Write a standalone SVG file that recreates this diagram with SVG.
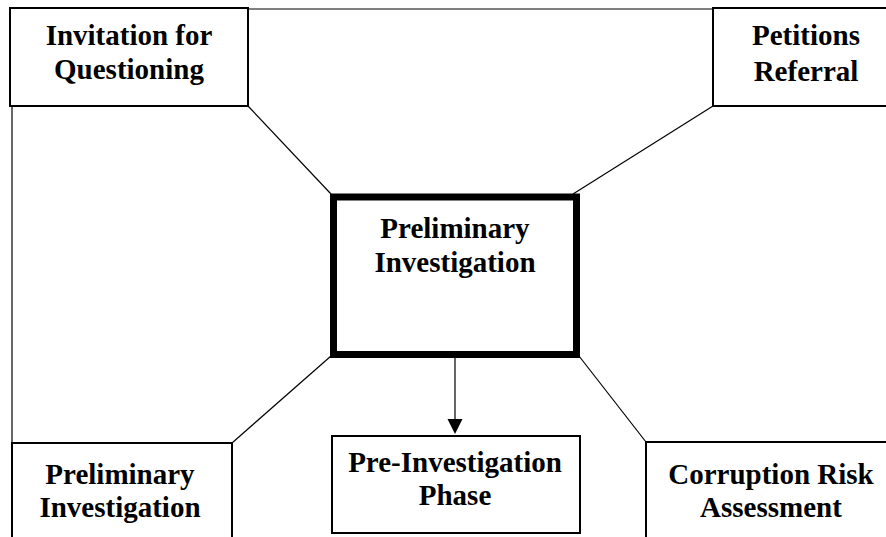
<svg xmlns="http://www.w3.org/2000/svg" width="886" height="537" viewBox="0 0 886 537">
<style>
.box{fill:#fff;stroke:#000;stroke-width:2}
.main{fill:#fff;stroke:#000;stroke-width:7}
.t{font-family:"Liberation Serif","Times New Roman",serif;font-weight:bold;font-size:29px;fill:#000;text-anchor:middle}
.c{stroke:#000;stroke-width:1.2;fill:none}
</style>
<rect width="886" height="537" fill="#fff"/>
<g id="connectors">
<line class="c" x1="248" y1="9" x2="713" y2="9"/>
<line class="c" x1="12" y1="106" x2="12" y2="443"/>
<line class="c" x1="248" y1="106" x2="331" y2="194"/>
<line class="c" x1="713" y1="106" x2="573" y2="194"/>
<line class="c" x1="331" y1="356" x2="232" y2="443"/>
<line class="c" x1="579" y1="356" x2="646" y2="442"/>
<path class="c" d="M455,358 L455,420"/>
<path d="M447.5,419 L462.5,419 L455,434 Z" fill="#000"/>
</g>
<g id="invitation">
<rect class="box" x="10" y="8" width="238" height="98"/>
<text class="t" x="129" y="45">Invitation for</text>
<text class="t" x="129" y="79">Questioning</text>
</g>
<g id="petitions">
<rect class="box" x="713" y="8" width="190" height="98"/>
<text class="t" x="806" y="45">Petitions</text>
<text class="t" x="806" y="81">Referral</text>
</g>
<g id="center">
<rect class="main" x="333.5" y="197" width="243" height="157.5"/>
<text class="t" x="455" y="238">Preliminary</text>
<text class="t" x="455" y="272">Investigation</text>
</g>
<g id="prelim-bottom">
<rect class="box" x="12" y="443" width="220" height="110"/>
<text class="t" x="120" y="484">Preliminary</text>
<text class="t" x="120" y="517">Investigation</text>
</g>
<g id="pre-investigation">
<rect class="box" x="332" y="436" width="248" height="97"/>
<text class="t" x="455" y="472">Pre-Investigation</text>
<text class="t" x="455" y="505">Phase</text>
</g>
<g id="corruption">
<rect class="box" x="646" y="442" width="260" height="110"/>
<text class="t" x="771" y="484">Corruption Risk</text>
<text class="t" x="771" y="517">Assessment</text>
</g>
</svg>
